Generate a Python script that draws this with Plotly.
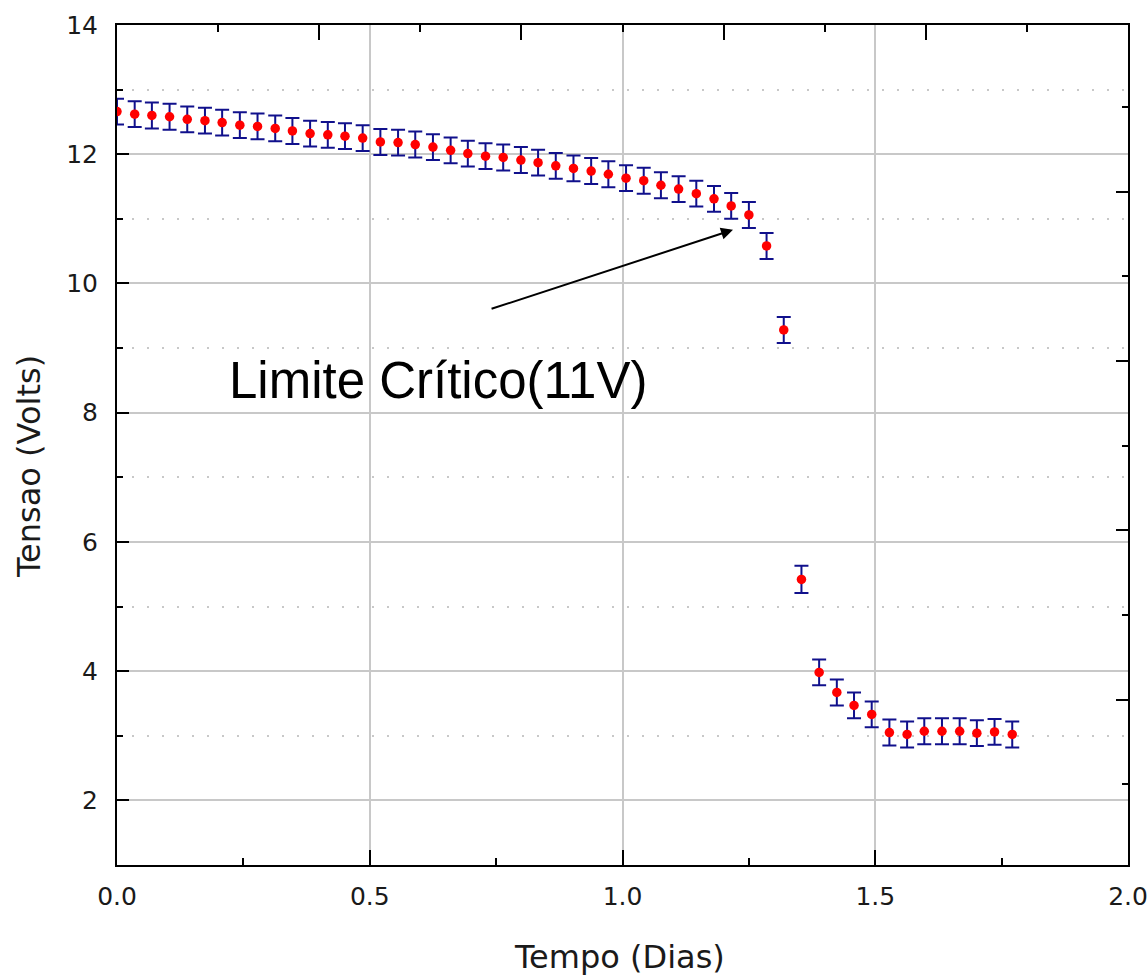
import plotly.graph_objects as go

# ---- data ----
tempo_dias = [0.000, 0.035, 0.069, 0.104, 0.139, 0.174, 0.208, 0.243, 0.278, 0.313,
              0.347, 0.382, 0.417, 0.451, 0.486, 0.521, 0.556, 0.590, 0.625, 0.660,
              0.694, 0.729, 0.764, 0.799, 0.833, 0.868, 0.903, 0.938, 0.972, 1.007,
              1.042, 1.076, 1.111, 1.146, 1.181, 1.215, 1.250, 1.285, 1.319, 1.354,
              1.389, 1.424, 1.458, 1.493, 1.528, 1.563, 1.597, 1.632, 1.667, 1.701,
              1.736, 1.771]

tensao_volts = [12.66, 12.62, 12.60, 12.58, 12.54, 12.52, 12.49, 12.45, 12.43, 12.40,
                12.36, 12.32, 12.30, 12.28, 12.25, 12.19, 12.18, 12.15, 12.11, 12.06,
                12.01, 11.97, 11.95, 11.91, 11.87, 11.82, 11.78, 11.74, 11.69, 11.63,
                11.59, 11.52, 11.46, 11.39, 11.31, 11.20, 11.06, 10.58, 9.28, 5.42,
                3.98, 3.67, 3.47, 3.33, 3.05, 3.02, 3.07, 3.07, 3.07, 3.04,
                3.06, 3.02]

erro_volts = [0.20, 0.20, 0.20, 0.20, 0.20, 0.20, 0.20, 0.20, 0.20, 0.20,
              0.20, 0.20, 0.20, 0.20, 0.20, 0.20, 0.20, 0.20, 0.20, 0.20,
              0.20, 0.20, 0.20, 0.20, 0.20, 0.20, 0.20, 0.20, 0.20, 0.20,
              0.20, 0.20, 0.20, 0.20, 0.20, 0.20, 0.20, 0.20, 0.20, 0.21,
              0.20, 0.20, 0.20, 0.20, 0.20, 0.20, 0.20, 0.20, 0.20, 0.20,
              0.20, 0.20]

x_ticks = [0.0, 0.5, 1.0, 1.5, 2.0]
x_tick_labels = ["0.0", "0.5", "1.0", "1.5", "2.0"]
y_ticks = [2, 4, 6, 8, 10, 12, 14]
y_tick_labels = ["2", "4", "6", "8", "10", "12", "14"]

titulo_x = "Tempo (Dias)"
titulo_y = "Tensao (Volts)"
anotacao = "Limite Crítico(11V)"

GRID = "#c8c8c8"
TICKFONT = dict(family="DejaVu Sans", size=25, color="#1a1a1a")

fig = go.Figure()

fig.add_trace(go.Scatter(
    x=tempo_dias, y=tensao_volts,
    mode="markers",
    marker=dict(color="#ff0000", size=9.5, line=dict(width=0)),
    error_y=dict(type="data", array=erro_volts, visible=True,
                 color="#10108c", thickness=2, width=7),
    showlegend=False,
))

# empty helper trace so that the secondary (top/right) tick axes are drawn
fig.add_trace(go.Scatter(x=[None], y=[None], xaxis="x2", yaxis="y2",
                         mode="markers", showlegend=False, hoverinfo="skip"))

fig.update_layout(
    width=1148, height=976,
    margin=dict(l=117, r=20, t=25, b=111, autoexpand=False),
    paper_bgcolor="white", plot_bgcolor="white",
    showlegend=False,
    xaxis=dict(
        range=[0, 2], tickmode="array", tickvals=x_ticks, ticktext=x_tick_labels,
        ticks="inside", ticklen=15, tickwidth=2, tickcolor="black",
        showline=True, linecolor="black", linewidth=2, mirror=True,
        showgrid=True, gridcolor=GRID, gridwidth=2, automargin=False,
        zeroline=False, tickfont=TICKFONT, ticklabelstandoff=8,
        minor=dict(dtick=0.25, tick0=0, ticks="inside", ticklen=7,
                   tickwidth=2, tickcolor="black", showgrid=False),
    ),
    yaxis=dict(
        range=[1, 14], tickmode="array", tickvals=y_ticks, ticktext=y_tick_labels,
        ticks="inside", ticklen=12, tickwidth=2, tickcolor="black",
        showline=True, linecolor="black", linewidth=2, mirror=True,
        showgrid=True, gridcolor=GRID, gridwidth=2, automargin=False,
        zeroline=False, tickfont=TICKFONT, ticklabelstandoff=12,
        minor=dict(dtick=1, tick0=1, ticks="inside", ticklen=6,
                   tickwidth=2, tickcolor="black", showgrid=True,
                   gridcolor=GRID, gridwidth=2, griddash="2px,13px"),
    ),
    xaxis2=dict(
        overlaying="x", side="top", anchor="y", range=[0, 2],
        dtick=0.4, tick0=0, ticks="inside", ticklen=15, tickwidth=2,
        tickcolor="black", showticklabels=False, showgrid=False,
        showline=False, zeroline=False, automargin=False,
        minor=dict(dtick=0.2, tick0=0, ticks="inside", ticklen=7,
                   tickwidth=2, tickcolor="black", showgrid=False),
    ),
    yaxis2=dict(
        overlaying="y", side="right", anchor="x", range=[-1.954, 7.97],
        dtick=2, tick0=0, ticks="inside", ticklen=12, tickwidth=2,
        tickcolor="black", showticklabels=False, showgrid=False,
        showline=False, zeroline=False, automargin=False,
        minor=dict(dtick=1, tick0=0, ticks="inside", ticklen=6,
                   tickwidth=2, tickcolor="black", showgrid=False),
    ),
)

fig.add_annotation(
    x=0.4975, y=-0.1095, xref="paper", yref="paper",
    text=titulo_x, showarrow=False,
    font=dict(family="DejaVu Sans", size=32, color="#1a1a1a"),
    xanchor="center", yanchor="middle",
)
fig.add_annotation(
    x=-0.087, y=0.4738, xref="paper", yref="paper",
    text=titulo_y, showarrow=False, textangle=-90,
    font=dict(family="DejaVu Sans", size=32, color="#1a1a1a"),
    xanchor="center", yanchor="middle",
)
fig.add_annotation(
    x=0.635, y=8.5, xref="x", yref="y",
    text=anotacao, showarrow=False,
    font=dict(family="Liberation Sans", size=51, color="black"),
    xanchor="center", yanchor="middle",
)
fig.add_annotation(
    x=1.2186, y=10.83, xref="x", yref="y",
    ax=0.738, ay=9.60, axref="x", ayref="y",
    text="", showarrow=True, arrowhead=2, arrowsize=1.2,
    arrowwidth=2, arrowcolor="black", standoff=0,
)

fig.write_html("out.html")
